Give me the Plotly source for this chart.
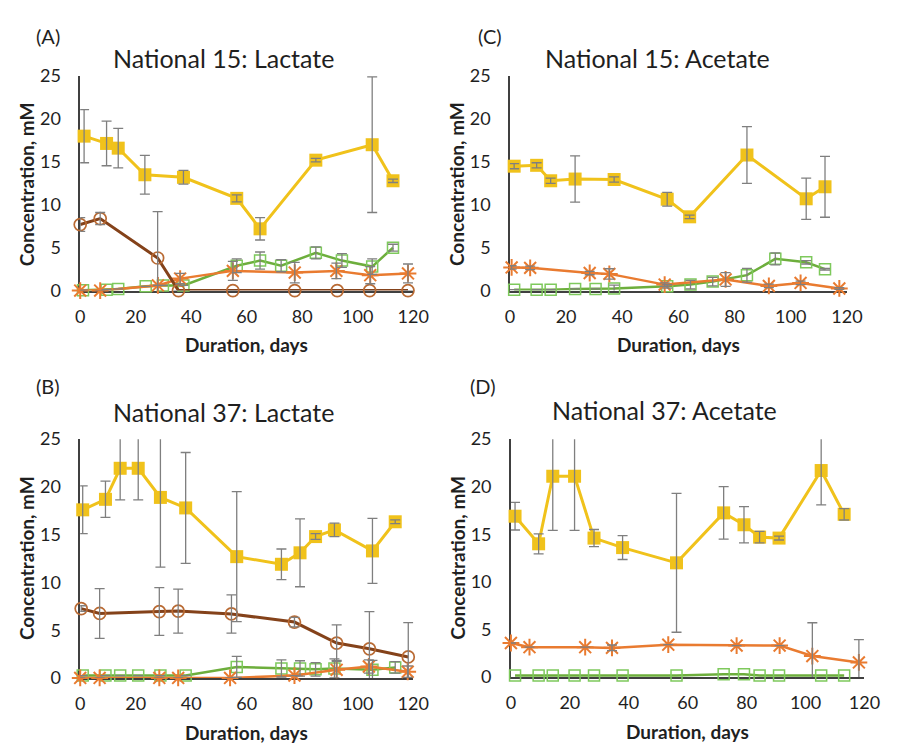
import plotly.graph_objects as go

W, H = 901, 753

# ---------------- Data ----------------
# Panel A: National 15: Lactate
A_yel_x = [1.4, 9.5, 13.7, 23.3, 37.2, 56.4, 64.8, 84.9, 105.2, 112.7]
A_yel_y = [18.0, 17.15, 16.6, 13.5, 13.2, 10.75, 7.2, 15.2, 17.0, 12.8]
A_yel_e = [3.1, 2.6, 2.3, 2.25, 0.8, 0.4, 1.3, 0.2, 7.9, 0.2]
A_brn_x = [0, 7.2, 27.9, 35.4, 55, 77.3, 92.6, 104.3, 118.1]
A_brn_y = [7.7, 8.4, 3.8, 0, 0, 0, 0, 0, 0]
A_brn_e = [0.8, 0.7, 5.4, None, None, None, None, None, None]
A_grn_x = [1, 9.5, 13.7, 23.6, 29.8, 37.2, 56.4, 64.8, 72.4, 84.9, 94.3, 105.2, 112.7]
A_grn_y = [0.05, 0.1, 0.2, 0.5, 0.6, 0.6, 2.9, 3.5, 2.9, 4.4, 3.5, 2.8, 5.0]
A_grn_e = [None, None, None, None, None, None, 0.8, 1.0, 0.7, 0.7, 0.8, 0.9, 0.4]
A_org_x = [0, 7.2, 28, 36, 55, 77.3, 92.3, 104.5, 118.1]
A_org_y = [0, 0, 0.6, 1.4, 2.3, 2.1, 2.3, 1.8, 2.0]
A_org_e = [None, None, None, 0.6, 1.1, 1.2, 0.9, 1.0, 1.1]

# Panel C: National 15: Acetate
C_yel_x = [1.5, 9.5, 14.5, 23.2, 37.1, 56, 64, 84.4, 105.5, 112.2]
C_yel_y = [14.5, 14.6, 12.8, 13.0, 12.95, 10.65, 8.6, 15.8, 10.7, 12.1]
C_yel_e = [0.3, 0.3, 0.3, 2.7, 0.3, 0.8, 0.2, 3.3, 2.4, 3.55]
C_org_x = [0.6, 7.2, 28.4, 35.4, 55.1, 76.8, 92.2, 103.5, 117.3]
C_org_y = [2.7, 2.65, 2.05, 1.95, 0.7, 1.3, 0.55, 0.9, 0.25]
C_org_e = [0.2, 0.2, 0.2, 0.6, 0.2, 0.8, 0.2, 0.2, 0.1]
C_grn_x = [1.5, 9.5, 14.5, 23.2, 30.5, 37.1, 56, 64.3, 72.2, 84.4, 94.5, 105.5, 112.2]
C_grn_y = [0.1, 0.1, 0.1, 0.2, 0.2, 0.25, 0.5, 0.7, 1.05, 1.8, 3.7, 3.3, 2.5]
C_grn_e = [None, None, None, None, None, 0.4, 0.2, 0.5, 0.5, 0.8, 0.7, 0.2, 0.1]

# Panel B: National 37: Lactate
B_yel_x = [0.9, 9.1, 14.4, 20.9, 28.9, 38, 56.4, 72.5, 79.2, 84.8, 91.6, 105.3, 113.5]
B_yel_y = [17.6, 18.7, 21.95, 21.95, 18.9, 17.8, 12.7, 11.9, 13.1, 14.8, 15.5, 13.3, 16.35]
B_yel_e = [2.5, 1.9, 3.3, 3.3, 7.3, 5.8, 6.8, 1.6, 3.55, 0.3, 0.7, 3.4, 0.2]
B_brn_x = [0.35, 7.0, 28.5, 35.3, 54.5, 77.2, 92.4, 104.2, 118.2]
B_brn_y = [7.26, 6.75, 6.95, 7.0, 6.7, 5.85, 3.65, 3.05, 2.2]
B_brn_e = [0.3, 2.6, 2.5, 2.3, 2.0, 0.5, 1.9, 3.9, 3.6]
B_grn_x = [0.9, 9.1, 14.4, 20.9, 28.9, 38, 56.4, 72.5, 79.2, 84.8, 91.6, 105.3, 113.5]
B_grn_y = [0.25, 0.25, 0.25, 0.25, 0.25, 0.25, 1.15, 1.0, 1.0, 0.9, 1.0, 0.85, 1.1]
B_grn_e = [None, None, None, None, None, None, 1.1, 0.9, 0.8, 0.7, 1.0, 1.0, 0.6]
B_org_x = [0, 7, 28.5, 35.3, 54, 77.2, 92.4, 104, 118]
B_org_y = [0, 0, 0, 0, 0, 0.25, 0.85, 1.2, 0.65]
B_org_e = [None, None, None, None, None, None, 1.0, 0.7, 0.6]

# Panel D: National 37: Acetate
D_yel_x = [1.4, 9.4, 14.2, 21.6, 28.2, 37.9, 56.2, 72.2, 79.1, 84.4, 91, 105.3, 113.1]
D_yel_y = [16.9, 14.0, 21.1, 21.1, 14.6, 13.6, 12.0, 17.25, 16.0, 14.7, 14.6, 21.7, 17.1]
D_yel_e = [1.45, 1.05, 5.7, 5.7, 0.9, 1.25, 7.3, 2.75, 1.9, 0.6, 0.2, 3.6, 0.6]
D_org_x = [0, 6.3, 25.2, 34.3, 53.4, 76.6, 91.2, 102.3, 118.1]
D_org_y = [3.57, 3.13, 3.13, 3.06, 3.4, 3.3, 3.3, 2.2, 1.53]
D_org_e = [None, None, None, 0.3, None, None, None, 3.5, 2.4]
D_grn_x = [1.4, 9.4, 14.2, 21.6, 28.2, 37.9, 56.2, 72.2, 79.1, 84.4, 91, 105.3, 113.1]
D_grn_y = [0.15, 0.15, 0.15, 0.15, 0.15, 0.15, 0.15, 0.3, 0.3, 0.15, 0.15, 0.15, 0.15]

x_ticks = [0, 20, 40, 60, 80, 100, 120]
y_ticks = [0, 5, 10, 15, 20, 25]
titles = ["National 15: Lactate", "National 15: Acetate",
          "National 37: Lactate", "National 37: Acetate"]
panel_labels = ["(A)", "(C)", "(B)", "(D)"]
x_title = "Duration, days"
y_title = "Concentration, mM"

# ---------------- Styles ----------------
FONT = "Lato"
YEL = "#F0C21B"
BRN_LINE = "#84421A"
BRN_MK = "#B96A33"
GRN_LINE = "#6DAE3C"
GRN_MK = "#7EC95C"
ORG = "#E97B30"
ERR = "#7F7F7F"
TXT = "#1f1f1f"

series_style = {
    "brn": dict(line=dict(color=BRN_LINE, width=3),
                marker=dict(symbol="circle-open", size=12, color=BRN_MK, line=dict(width=1.7, color=BRN_MK))),
    "grn": dict(line=dict(color=GRN_LINE, width=2.5),
                marker=dict(symbol="square-open", size=11, color=GRN_MK, line=dict(width=1.5, color=GRN_MK))),
    "org": dict(line=dict(color=ORG, width=2.5),
                marker=dict(symbol="asterisk-open", size=14, color=ORG, line=dict(width=2, color=ORG))),
    "yel": dict(line=dict(color=YEL, width=3),
                marker=dict(symbol="square", size=13, color=YEL, line=dict(width=0))),
}

# panel geometry in pixels: (left, right, top, bottom)
geom = [(77, 418, 66, 287), (517, 862, 66, 287), (77, 418, 440, 686), (518, 880, 440, 685)]
title_pos = [(224, 47), (668, 47), (224, 412), (675, 410)]
label_pos = [(44, 25), (497, 25), (44, 385), (489, 385)]
ytitle_pos = [(22, 177), (463, 177), (22, 562), (463, 562)]

panels = [
    [("grn", A_grn_x, A_grn_y, A_grn_e), ("org", A_org_x, A_org_y, A_org_e),
     ("brn", A_brn_x, A_brn_y, A_brn_e), ("yel", A_yel_x, A_yel_y, A_yel_e)],
    [("grn", C_grn_x, C_grn_y, C_grn_e), ("org", C_org_x, C_org_y, C_org_e),
     ("yel", C_yel_x, C_yel_y, C_yel_e)],
    [("grn", B_grn_x, B_grn_y, B_grn_e), ("org", B_org_x, B_org_y, B_org_e),
     ("brn", B_brn_x, B_brn_y, B_brn_e), ("yel", B_yel_x, B_yel_y, B_yel_e)],
    [("grn", D_grn_x, D_grn_y, None), ("org", D_org_x, D_org_y, D_org_e),
     ("yel", D_yel_x, D_yel_y, D_yel_e)],
]

fig = go.Figure()
layout = dict(width=W, height=H, margin=dict(l=0, r=0, t=0, b=0),
              paper_bgcolor="white", plot_bgcolor="white", showlegend=False,
              font=dict(family=FONT, color=TXT))
annotations = []

for i, (series, (l, r, t, b)) in enumerate(zip(panels, geom)):
    k = "" if i == 0 else str(i + 1)
    xa, ya = "x" + k, "y" + k
    for key, xs, ys, es in series:
        st = series_style[key]
        fig.add_trace(go.Scatter(x=xs, y=ys, mode="lines+markers", xaxis=xa, yaxis=ya,
                                 line=st["line"], marker=st["marker"], cliponaxis=False,
                                 hoverinfo="skip"))
    for key, xs, ys, es in series:
        if es is None:
            continue
        fig.add_trace(go.Scatter(x=xs, y=ys, mode="markers", xaxis=xa, yaxis=ya,
                                 marker=dict(size=1, color="rgba(0,0,0,0)"),
                                 error_y=dict(type="data", array=es, symmetric=True,
                                              color=ERR, thickness=1.3, width=5),
                                 cliponaxis=True, hoverinfo="skip"))
    layout["xaxis" + k] = dict(domain=[l / W, r / W], anchor=ya, range=[0, 120],
                               tickvals=x_ticks, showgrid=False, zeroline=False,
                               showline=True, linecolor="#404040", linewidth=1.5,
                               ticks="", ticklabelstandoff=9,
                               tickfont=dict(family=FONT, size=18, color=TXT),
                               layer="below traces", fixedrange=True)
    layout["yaxis" + k] = dict(domain=[1 - b / H, 1 - t / H], anchor=xa, range=[0, 25],
                               tickvals=y_ticks, showgrid=False, zeroline=False,
                               showline=True, linecolor="#404040", linewidth=1.5,
                               ticks="", ticklabelstandoff=14,
                               tickfont=dict(family=FONT, size=18, color=TXT),
                               layer="below traces", fixedrange=True)
    tx, ty = title_pos[i]
    annotations.append(dict(text=titles[i], x=tx / W, y=1 - ty / H, xref="paper", yref="paper",
                            xanchor="center", yanchor="middle", showarrow=False,
                            font=dict(family=FONT, size=25, color=TXT)))
    lx, ly = label_pos[i]
    annotations.append(dict(text=panel_labels[i], x=lx / W, y=1 - ly / H, xref="paper", yref="paper",
                            xanchor="center", yanchor="middle", showarrow=False,
                            font=dict(family=FONT, size=20, color=TXT)))
    annotations.append(dict(text="<b>" + x_title + "</b>", x=((l + r) / 2) / W,
                            y=1 - (b + 56) / H, xref="paper", yref="paper",
                            xanchor="center", yanchor="middle", showarrow=False,
                            font=dict(family=FONT, size=19, color=TXT)))
    yx, yy = ytitle_pos[i]
    annotations.append(dict(text="<b>" + y_title + "</b>", x=yx / W, y=1 - yy / H,
                            xref="paper", yref="paper", textangle=-90,
                            xanchor="center", yanchor="middle", showarrow=False,
                            font=dict(family=FONT, size=19, color=TXT)))

layout["annotations"] = annotations
fig.update_layout(**layout)
fig.write_html("out.html")
